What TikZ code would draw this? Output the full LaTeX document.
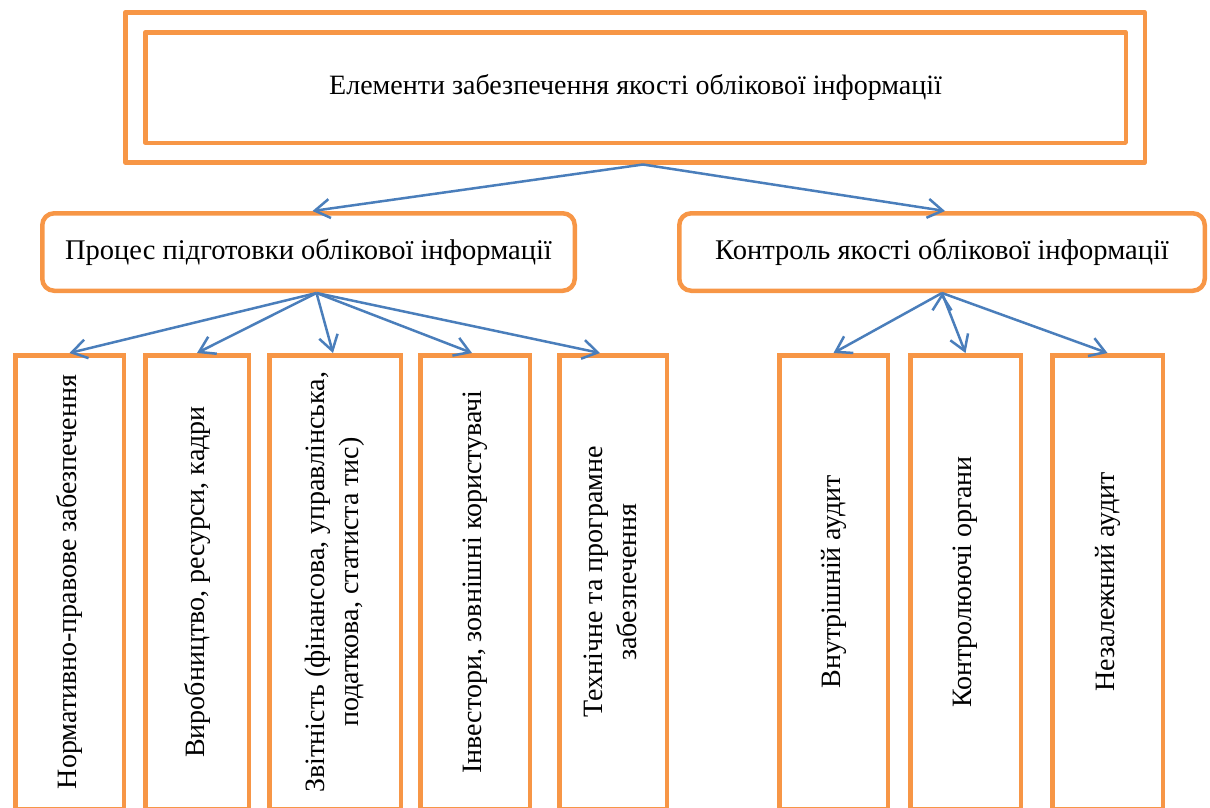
\documentclass[tikz,border=0pt]{standalone}
\usepackage{fontspec}
\setmainfont{Liberation Serif}
\usepackage{graphicx}
\usetikzlibrary{arrows.meta}

\definecolor{boxorange}{HTML}{F79646}
\definecolor{linkblue}{HTML}{4A7EBB}

\begin{document}
\begin{tikzpicture}[x=1pt, y=-1pt, frame node/.style={rectangle, draw=boxorange, line width=4.5pt, line join=round, inner sep=0pt, font=\fontsize{28}{33}\selectfont}, group node/.style={rectangle, rounded corners=12pt, draw=boxorange, line width=4.5pt, inner sep=0pt, minimum height=77.5pt, font=\fontsize{28.5}{33}\selectfont}, leaf node/.style={rectangle, draw=boxorange, line width=4.5pt, inner sep=0pt, minimum height=453.5pt, font=\fontsize{28}{34}\selectfont}, link/.style={-{Straight Barb[length=15pt,width=19pt]}, draw=linkblue, line width=2.5pt}]
\clip (0,0) rectangle (1210,807);

% top
\node[frame node, minimum width=1019.5pt, minimum height=150pt] (n0) at (635,87.25) {};
\node[frame node, minimum width=980.5pt, minimum height=110.5pt] (n1) at (635.5,87.5) {Елементи забезпечення якості облікової інформації};

% middle
\node[group node, minimum width=532.5pt] (n2) at (308.5,252) {Процес підготовки облікової інформації};
\node[group node, minimum width=525.5pt] (n3) at (942,252) {Контроль якості облікової інформації};

% bottom, left group
\node[leaf node, minimum width=108.5pt] (n4) at (69.5,582) {\rotatebox{90}{Нормативно-правове забезпечення}};
\node[leaf node, minimum width=103.5pt] (n5) at (197,582) {\rotatebox{90}{Виробництво, ресурси, кадри}};
\node[leaf node, minimum width=131.5pt] (n6) at (335,582) {\rotatebox{90}{\begin{tabular}{@{}c@{}}Звітність (фінансова, управлінська,\\ податкова, статиста тис)\end{tabular}}};
\node[leaf node, minimum width=109.5pt] (n7) at (475,582) {\rotatebox{90}{Інвестори, зовнішні користувачі}};
\node[leaf node, minimum width=107.5pt] (n8) at (613,582) {\rotatebox{90}{\begin{tabular}{@{}c@{}}Технічне та програмне\\ забезпечення\end{tabular}}};

% bottom, right group
\node[leaf node, minimum width=108.5pt] (n9) at (833.5,582) {\rotatebox{90}{Внутрішній аудит}};
\node[leaf node, minimum width=110.5pt] (n10) at (965.5,582) {\rotatebox{90}{Контролюючі органи}};
\node[leaf node, minimum width=110.5pt] (n11) at (1107.5,582) {\rotatebox{90}{Незалежний аудит}};

\path[]
% top -> middle
([xshift=8pt]n0.south) [link] edge ([xshift=4pt]n2.north)
([xshift=8pt]n0.south) [link] edge ([xshift=3pt]n3.north)

% left group
([xshift=8pt]n2.south) [link] edge (n4.north)
([xshift=8pt]n2.south) [link] edge (n5.north)
([xshift=8pt]n2.south) [link] edge ([xshift=-2pt]n6.north)
([xshift=8pt]n2.south) [link] edge ([xshift=-3pt]n7.north)
([xshift=8pt]n2.south) [link] edge ([xshift=-13pt]n8.north)

% right group
(n3.south) [link] edge (n9.north)
(n3.south) [link] edge (n10.north)
(n3.south) [link] edge (n11.north)
;

\end{tikzpicture}
\end{document}
